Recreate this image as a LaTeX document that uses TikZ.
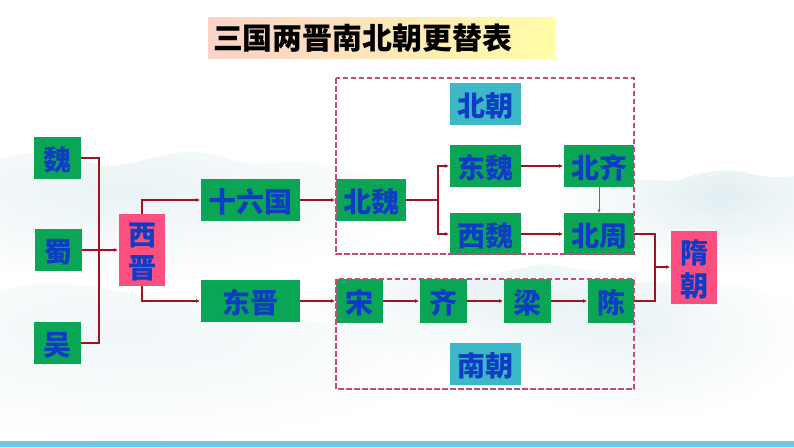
\documentclass[tikz,border=0pt]{standalone}
\usepackage{fontspec}
\setmainfont{Noto Sans CJK SC}[BoldFont={Noto Sans CJK SC Black}]
\usetikzlibrary{arrows.meta,fadings}
\definecolor{boxgreen}{HTML}{0BA655}
\definecolor{boxpink}{HTML}{FC4F80}
\definecolor{boxteal}{HTML}{3CB8C6}
\definecolor{txtblue}{HTML}{0F3CC4}
\definecolor{linered}{HTML}{A01420}
\definecolor{dashcol}{HTML}{C8487C}
\definecolor{mist}{HTML}{CFE4EA}
\definecolor{barblue}{HTML}{6CC8F1}
\definecolor{titleL}{HTML}{FBD2C8}
\definecolor{titleR}{HTML}{FFFDA6}
\tikzfading[name=softmist,inner color=transparent!25,outer color=transparent!100]
\tikzset{
  x=1pt,y=-1pt,
  cell/.style={inner sep=0pt,outer sep=0pt,text=txtblue,font=\bfseries\fontsize{28}{33}\selectfont,align=center,anchor=center},
  gbox/.style={cell,fill=boxgreen},
  pbox/.style={cell,fill=boxpink},
  tbox/.style={cell,fill=boxteal},
  conn/.style={draw=linered,line width=1.3pt},
  arr/.style={conn,-{Latex[length=4pt,width=4pt]},shorten >=1pt},
  grayarr/.style={draw=gray!85!black,line width=0.8pt,-{Latex[length=3.5pt,width=3.5pt]}},
  dashbox/.style={draw=dashcol,line width=1.3pt,dash pattern=on 5.5pt off 2.5pt},
  blob/.style={fill=mist,path fading=softmist,opacity=#1},
}
\newcommand{\cellbox}[7]{\node[#1,minimum width=#4-#3,minimum height=#6-#5] (#2) at ({(#3+#4)/2},{(#5+#6)/2}) {\rule{0pt}{27pt}#7};}
\begin{document}
\begin{tikzpicture}
\useasboundingbox (0,0) rectangle (794,447);
\fill[white] (0,0) rectangle (794,447);
% misty background: soft blobs clipped by ridge lines
\begin{scope}
\clip (0,158) .. controls (30,150) and (70,152) .. (100,165) .. controls (130,168) and (170,150) .. (195,152) .. controls (225,155) and (240,168) .. (280,162) .. controls (320,160) and (360,172) .. (430,190) -- (430,300) -- (0,300) -- cycle;
\fill[blob=.6] (-180,100) rectangle (420,280);
\end{scope}
\begin{scope}
\clip (550,180) .. controls (650,178) and (670,182) .. (680,180) .. controls (700,172) and (725,168) .. (745,172) .. controls (765,178) and (780,178) .. (794,176) -- (794,300) -- (550,300) -- cycle;
\fill[blob=.8] (560,120) rectangle (880,270);
\end{scope}
\begin{scope}
\clip (0,290) .. controls (40,280) and (80,282) .. (120,292) .. controls (180,300) and (250,315) .. (340,325) -- (470,345) -- (470,447) -- (0,447) -- cycle;
\fill[blob=.4] (-200,220) rectangle (460,440);
\end{scope}
\begin{scope}
\clip (270,305) .. controls (360,292) and (390,270) .. (430,275) .. controls (470,285) and (510,268) .. (545,264) .. controls (580,270) and (620,272) .. (710,295) -- (710,370) -- (270,370) -- cycle;
\fill[blob=.6] (280,215) rectangle (700,365);
\end{scope}
\begin{scope}
\clip (470,300) .. controls (660,280) and (700,270) .. (794,300) -- (794,447) -- (470,447) -- cycle;
\fill[blob=.5] (480,240) rectangle (800,420);
\end{scope}
\fill[barblue] (0,441) rectangle (794,447);
% title
\fill[left color=titleL,right color=titleR] (208,17) rectangle (555,58);
\node[inner sep=0pt,font=\bfseries\fontsize{29.9}{30}\selectfont,text=black,anchor=center] (title) at (362.5,38) {三国两晋南北朝更替表};
% boxes
\cellbox{gbox}{wei}{34}{81}{137}{179}{魏}
\cellbox{gbox}{shu}{35}{82}{229}{271}{蜀}
\cellbox{gbox}{wu}{34}{81}{322}{364}{吴}
\cellbox{pbox}{xijin}{119}{165}{214}{286}{西\\晋}
\cellbox{gbox}{sl}{201}{299.5}{179}{221}{十六国}
\cellbox{gbox}{dj}{201}{299.5}{280}{322}{东晋}
\cellbox{gbox}{bw}{336}{406}{179}{221}{北魏}
\cellbox{gbox}{dw}{450}{521}{145}{187}{东魏}
\cellbox{gbox}{xw}{450}{521}{213}{255}{西魏}
\cellbox{gbox}{bq}{564}{634}{145}{187}{北齐}
\cellbox{gbox}{bz}{564}{634}{213}{255}{北周}
\cellbox{tbox}{bc}{450}{521}{83}{125}{北朝}
\cellbox{tbox}{nc}{450}{521}{343}{385}{南朝}
\cellbox{gbox}{song}{336}{383}{279}{323}{宋}
\cellbox{gbox}{qi}{420}{467}{279}{323}{齐}
\cellbox{gbox}{liang}{504}{551}{279}{323}{梁}
\cellbox{gbox}{chen}{588}{634}{279}{323}{陈}
\cellbox{pbox}{sui}{671}{717}{231}{304}{隋\\朝}
% dashed groups
\draw[dashbox] (336,78) rectangle (634,254);
\draw[dashbox] (336,279) rectangle (634,389);
% junctions
\coordinate (j1) at (99,250);
\coordinate (j2) at (438,200);
\coordinate (j3) at (655,267);
% connectors
\draw[conn] (wei.east) -| (j1) |- (wu.east);
\draw[arr] (shu.east) -- (shu.east -| xijin.west);
\draw[arr] (xijin.north) |- (sl.west);
\draw[arr] (xijin.south) |- (dj.west);
\draw[arr] (sl.east) -- (bw.west);
\draw[arr] (dj.east) -- (dj.east -| song.west);
\draw[conn] (bw.east) -- (j2);
\draw[arr] (j2) |- (dw.west);
\draw[arr] (j2) |- (xw.west);
\draw[arr] (dw.east) -- (bq.west);
\draw[arr] (xw.east) -- (bz.west);
\draw[grayarr] (bq.south) -- (bz.north);
\draw[arr] (song.east) -- (qi.west);
\draw[arr] (qi.east) -- (liang.west);
\draw[arr] (liang.east) -- (chen.west);
\draw[conn] (bz.east) -| (j3) |- (chen.east);
\draw[arr] (j3) -- (j3 -| sui.west);
\end{tikzpicture}
\end{document}
